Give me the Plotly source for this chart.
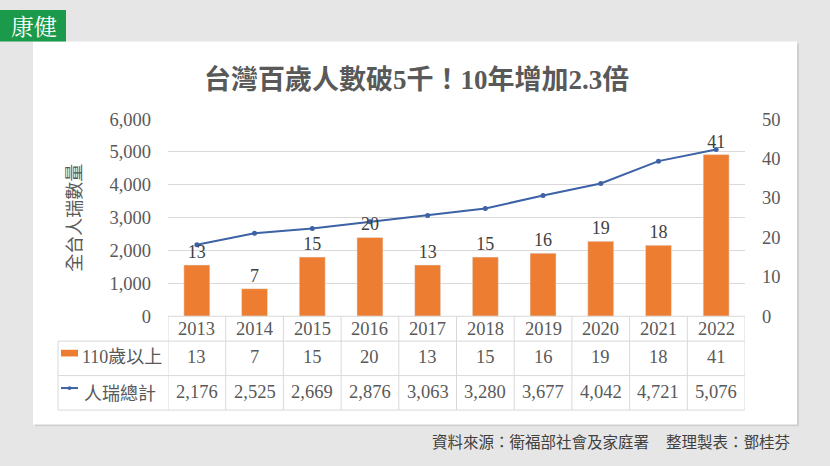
import plotly.graph_objects as go

years = ["2013", "2014", "2015", "2016", "2017", "2018", "2019", "2020", "2021", "2022"]
over110 = [13, 7, 15, 20, 13, 15, 16, 19, 18, 41]
centenarians = [2176, 2525, 2669, 2876, 3063, 3280, 3677, 4042, 4721, 5076]
left_ticks = [0, 1000, 2000, 3000, 4000, 5000, 6000]
right_ticks = [0, 10, 20, 30, 40, 50]

title_text = "台灣百歲人數破5千！10年增加2.3倍"
ytitle_text = "全台人瑞數量"
bar_name = "110歲以上"
line_name = "人瑞總計"
source_text = "資料來源：衛福部社會及家庭署"
author_text = "整理製表：鄧桂芬"
logo_text = "康健"

W, H = 830, 466
def px(x):
    return x / W
def py(y):
    return 1 - y / H

SERIF = "Liberation Serif, Times New Roman, Noto Sans CJK TC, serif"
SANS = "Noto Sans CJK TC, sans-serif"
TXT = "#595959"
GRID = "#d9d9d9"
ORANGE = "#ED7D31"
BLUE = "#3D62A6"

fig = go.Figure()
fig.add_trace(go.Bar(
    x=years, y=over110, yaxis="y2", name=bar_name,
    marker_color=ORANGE, text=[str(v) for v in over110],
    textposition="outside", textfont=dict(family=SERIF, size=18, color="#404040"),
    cliponaxis=False, showlegend=False,
))
fig.add_trace(go.Scatter(
    x=years, y=centenarians, yaxis="y", name=line_name, mode="lines+markers",
    line=dict(color=BLUE, width=2), marker=dict(size=5, color=BLUE),
    showlegend=False, cliponaxis=False,
))

x0, x1 = 168, 745
ytop, ybot = 114, 320

shapes = []
# card
shapes.append(dict(type="rect", xref="paper", yref="paper", x0=px(35), x1=px(799), y0=py(435), y1=py(35),
                   fillcolor="#cfcfcf", line=dict(width=0), layer="below"))
shapes.append(dict(type="rect", xref="paper", yref="paper", x0=px(33), x1=px(797), y0=py(433), y1=py(33),
                   fillcolor="white", line=dict(width=0), layer="below"))
# logo
shapes.append(dict(type="rect", xref="paper", yref="paper", x0=0, x1=px(66), y0=py(33), y1=1,
                   fillcolor="#1a9a4a", line=dict(width=0)))
# table horizontal lines
for yy, xs in [(320, 168), (346, 58), (382, 58), (418, 58)]:
    shapes.append(dict(type="line", xref="paper", yref="paper", x0=px(xs), x1=px(745), y0=py(yy), y1=py(yy),
                       line=dict(color=GRID, width=1)))
# table vertical lines at category boundaries
for i in range(len(years) + 1):
    shapes.append(dict(type="line", xref="x", yref="paper", x0=i - 0.5, x1=i - 0.5, y0=py(418), y1=py(320),
                       line=dict(color=GRID, width=1)))
shapes.append(dict(type="line", xref="paper", yref="paper", x0=px(58), x1=px(58), y0=py(418), y1=py(346),
                   line=dict(color=GRID, width=1)))
# legend keys
shapes.append(dict(type="rect", xref="paper", yref="paper", x0=px(61), x1=px(78), y0=py(362), y1=py(355),
                   fillcolor=ORANGE, line=dict(width=0)))
shapes.append(dict(type="line", xref="paper", yref="paper", x0=px(61), x1=px(78), y0=py(395), y1=py(395),
                   line=dict(color=BLUE, width=2)))
shapes.append(dict(type="circle", xref="paper", yref="paper", x0=px(67.5), x1=px(71.5), y0=py(397), y1=py(393),
                   fillcolor=BLUE, line=dict(width=0)))

ann = []
ann.append(dict(text="<b>" + title_text + "</b>", xref="paper", yref="paper", x=px(416), y=py(73), showarrow=False,
                font=dict(family=SERIF, size=27, color=TXT), xanchor="center", yanchor="middle"))
ann.append(dict(text=ytitle_text, xref="paper", yref="paper", x=px(73), y=py(217), showarrow=False, textangle=-90,
                font=dict(family=SANS, size=18, color=TXT), xanchor="center", yanchor="middle"))
ann.append(dict(text=logo_text, xref="paper", yref="paper", x=px(34), y=py(16), showarrow=False,
                font=dict(family="Noto Serif CJK TC, Noto Sans CJK TC", size=23, color="white"),
                xanchor="center", yanchor="middle"))
ann.append(dict(text=bar_name, xref="paper", yref="paper", x=px(80), y=py(363), showarrow=False,
                font=dict(family=SERIF, size=18, color=TXT), xanchor="left", yanchor="middle"))
ann.append(dict(text=line_name, xref="paper", yref="paper", x=px(82), y=py(399), showarrow=False,
                font=dict(family=SANS, size=18, color=TXT), xanchor="left", yanchor="middle"))
for i, yr in enumerate(years):
    ann.append(dict(text=yr, xref="x", yref="paper", x=i, y=py(333), showarrow=False,
                    font=dict(family=SERIF, size=18.5, color=TXT), yanchor="middle"))
    ann.append(dict(text=str(over110[i]), xref="x", yref="paper", x=i, y=py(363), showarrow=False,
                    font=dict(family=SERIF, size=18.5, color=TXT), yanchor="middle"))
    ann.append(dict(text=f"{centenarians[i]:,}", xref="x", yref="paper", x=i, y=py(399), showarrow=False,
                    font=dict(family=SERIF, size=18.5, color=TXT), yanchor="middle"))
ann.append(dict(text=source_text, xref="paper", yref="paper", x=px(430), y=py(450), showarrow=False,
                font=dict(family=SANS, size=15.5, color="#404040"), xanchor="left", yanchor="middle"))
ann.append(dict(text=author_text, xref="paper", yref="paper", x=px(792), y=py(450), showarrow=False,
                font=dict(family=SANS, size=15.5, color="#404040"), xanchor="right", yanchor="middle"))

fig.update_layout(
    width=W, height=H, margin=dict(l=0, r=0, t=0, b=0),
    paper_bgcolor="#e6e6e6", plot_bgcolor="rgba(0,0,0,0)",
    bargap=0.55, shapes=shapes, annotations=ann,
    xaxis=dict(domain=[px(x0), px(x1)], type="category", range=[-0.5, len(years) - 0.5],
               showticklabels=False, showgrid=False,
               zeroline=False, showline=False, fixedrange=True),
    yaxis=dict(domain=[py(ybot), py(ytop)], range=[0, 6000], tickvals=left_ticks,
               tickformat=",", showgrid=True, gridcolor=GRID, gridwidth=1, zeroline=False,
               tickfont=dict(family=SERIF, size=18.5, color=TXT), ticklabelstandoff=16),
    yaxis2=dict(overlaying="y", side="right", range=[0, 50], tickvals=right_ticks, showgrid=False,
                zeroline=False, tickfont=dict(family=SERIF, size=18.5, color=TXT), ticklabelstandoff=16),
)

fig.write_html("out.html")
